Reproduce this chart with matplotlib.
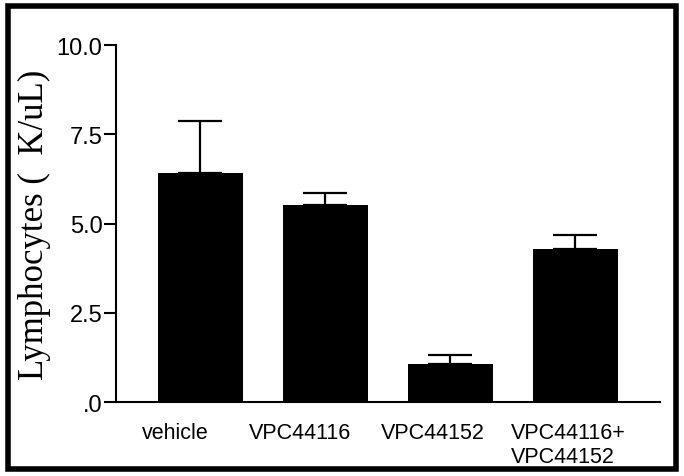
import numpy as np
import matplotlib
matplotlib.use('Agg')
import matplotlib.pyplot as plt
import matplotlib.transforms as mtransforms
from matplotlib.patches import Rectangle

# data
groups = ['vehicle', 'VPC44116', 'VPC44152', 'VPC44116+\nVPC44152']
means = [6.42, 5.52, 1.08, 4.30]
errs = [1.45, 0.35, 0.25, 0.38]
yticks = [0, 2.5, 5.0, 7.5, 10.0]
ytick_labels = ['.0', '2.5', '5.0', '7.5', '10.0']

fig = plt.figure(figsize=(6.84, 4.77), dpi=100)
ax = fig.add_axes([0.170, 0.155, 0.795, 0.748])

x = np.arange(len(groups))
ax.bar(x, means, width=0.68, color='black', zorder=2)
ax.errorbar(x, means, yerr=[np.zeros(len(errs)), errs], fmt='none',
            ecolor='black', elinewidth=1.6, capsize=16, capthick=1.6, zorder=1)

ax.set_xlim(-0.67, 3.68)
ax.set_ylim(0, 10)
ax.set_yticks(yticks)
ax.set_yticklabels(ytick_labels, family='Liberation Sans', fontsize=17)
ax.set_xticks(x)
ax.set_xticklabels(groups, family='Liberation Sans', fontsize=15.5)
ax.tick_params(axis='x', length=0, pad=14)
ax.tick_params(axis='y', length=9, width=1.5, direction='out', pad=1)

# the category labels sit a bit left of the bar centres in the original
shifts = [-25, -25, -17, -7]
for lab, dx in zip(ax.get_xticklabels(), shifts):
    lab.set_transform(lab.get_transform() +
                      mtransforms.ScaledTranslation(dx / 100, 0, fig.dpi_scale_trans))
    lab.set_multialignment('left')

ax.spines['top'].set_visible(False)
ax.spines['right'].set_visible(False)
ax.spines['left'].set_linewidth(1.5)
ax.spines['bottom'].set_linewidth(1.5)

ax.set_ylabel('Lymphocytes (  K/uL)', family='Liberation Serif', fontsize=25, labelpad=4)

# outer frame around the whole figure
fig.patches.append(Rectangle((0.011, 0.015), 0.978, 0.970, transform=fig.transFigure,
                             fill=False, edgecolor='black', linewidth=4))

fig.savefig('out.png', dpi=100)
